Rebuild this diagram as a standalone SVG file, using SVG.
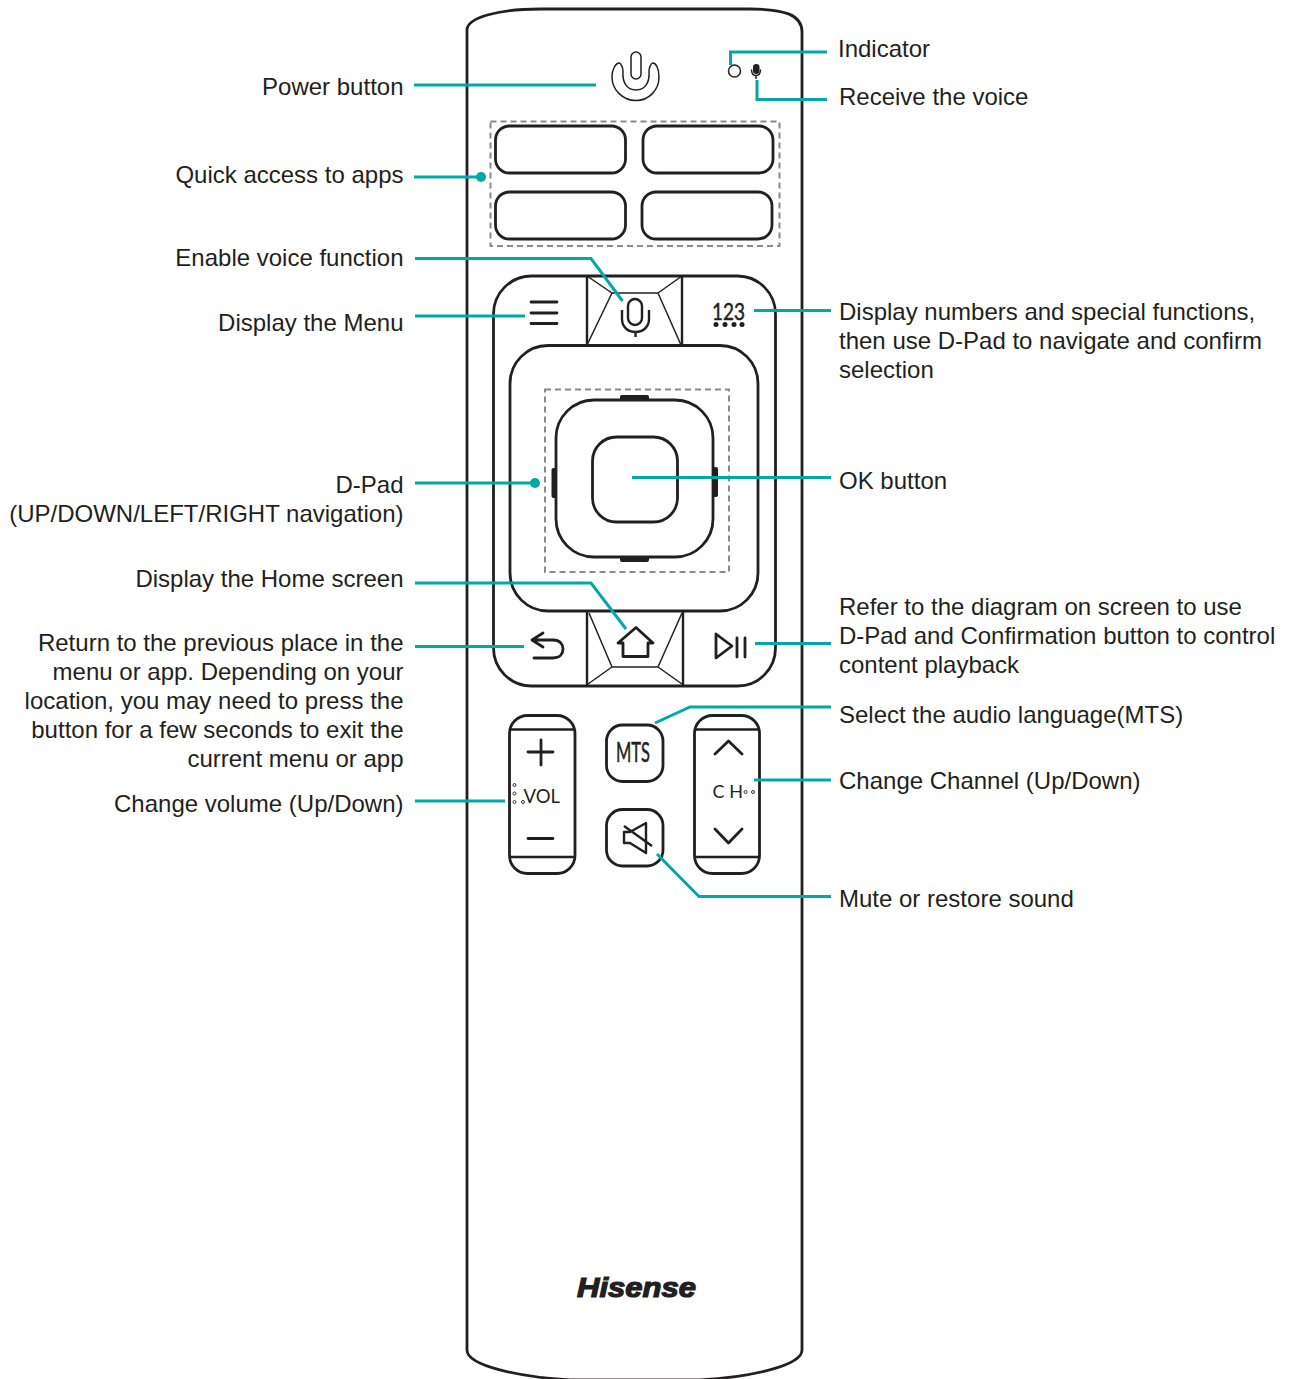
<svg xmlns="http://www.w3.org/2000/svg" width="1289" height="1379" viewBox="0 0 1289 1379">
<style>
text{font-family:"Liberation Sans",Arial,sans-serif;fill:#231f20}
.l{font-size:24px;text-anchor:end}
.r{font-size:24px}
.k{fill:none;stroke:#231f20;stroke-width:2.8;stroke-linejoin:round;stroke-linecap:round}
.t{fill:none;stroke:#231f20;stroke-width:1.5;stroke-linejoin:round}
.m{fill:none;stroke:#231f20;stroke-width:2.4;stroke-linejoin:round}
.d{fill:none;stroke:#8a8a8a;stroke-width:2;stroke-dasharray:6 4}
.c{fill:none;stroke:#00a9a7;stroke-width:3;stroke-linejoin:miter}
.cd{fill:#00a9a7}
.f{fill:#231f20}
.lt{font-family:Lato,"Liberation Sans",sans-serif;font-weight:400}
</style>
<g id="remote-body"><path class="k" d="M467,1350V30C467,18 497,9 540,9H750C785,9 802,15 802,32V1350C802,1366 750,1377 700,1380H570C520,1377 467,1366 467,1350Z"/></g>
<g id="power-button">
<path class="t" d="M623,71C622,84 628,90 636,90S650,84 649,71C649,68 651,63 653,63C656,63 659,69 659,77C659,90 649,100.500 636,100.500S612,90 612,77C612,69 616,63 619,63C621,63 623,68 623,71Z"/>
<rect class="t" x="631" y="52" width="10" height="27" rx="5"/>
</g>
<g id="indicator"><circle class="t" cx="734.500" cy="71" r="6"/></g>
<g id="microphone"><rect class="f" x="753" y="64" width="6.500" height="10" rx="3.200"/><path fill="none" stroke="#231f20" stroke-width="1.500" d="M751.500,69.500C751.500,73 753,75.500 756,75.500S760.500,73 760.500,69.500M756,75.500V79"/></g>
<g id="quick-access">
<rect class="d" x="490.500" y="121.500" width="289" height="124.500"/>
<rect class="k" x="495.500" y="126" width="130" height="47" rx="14"/>
<rect class="k" x="643" y="126" width="130" height="47" rx="14"/>
<rect class="k" x="495.500" y="192" width="130" height="47" rx="14"/>
<rect class="k" x="642" y="192" width="130" height="47" rx="14"/>
</g>
<g id="control-panel"><rect class="k" x="493.500" y="276" width="282" height="410" rx="38"/></g>
<g id="voice-button">
<path class="m" d="M587,276V345M682,276V345"/>
<path class="t" d="M587,276L612,293H658L682,276M612,293L587,345M658,293L681,345"/>
<rect class="m" x="628" y="299" width="14" height="26" rx="7"/>
<path class="m" d="M622,310V319C622,327 628,332 635.500,332S649,327 649,319V310M635.500,332V337"/>
</g>
<g id="menu-button"><path class="k" d="M531,302H557M531,313H557M531,323.500H557"/></g>
<g id="numbers-button">
<text class="lt" x="712" y="320" font-size="24" textLength="33" lengthAdjust="spacingAndGlyphs" stroke="#231f20" stroke-width=".5">123</text>
<circle class="f" cx="716" cy="324.500" r="2.500"/><circle class="f" cx="725" cy="324.500" r="2.500"/><circle class="f" cx="734" cy="324.500" r="2.500"/><circle class="f" cx="742" cy="324.500" r="2.500"/>
</g>
<g id="d-pad">
<rect class="k" x="510" y="345.500" width="248" height="265.500" rx="38" fill="#fff"/>
<rect class="d" x="545" y="389.500" width="184" height="182.500"/>
<rect class="f" x="620" y="395" width="29" height="6" rx="2"/>
<rect class="f" x="620" y="556" width="29" height="6" rx="2"/>
<rect class="f" x="551.500" y="468" width="5" height="30" rx="2"/>
<rect class="f" x="713" y="467" width="5" height="30" rx="2"/>
<rect class="k" x="556" y="400" width="157" height="157" rx="38"/>
</g>
<g id="ok-button"><rect class="k" x="592.500" y="437" width="85" height="85" rx="24"/></g>
<g id="home-button">
<path class="m" d="M587,611V686M683,611V686"/>
<path class="t" d="M589,613L612,667H658L682,613M612,667L588,684M658,667L682,684"/>
<path class="k" d="M623,656.500V643H618L636,627.500L653,643H648V656.500Z"/>
</g>
<g id="back-button"><path class="k" d="M543,633L532,640L543,647M532,640H553C560,640 563,644 563,649C563,654 560,658 553,658H534"/></g>
<g id="play-button"><path class="k" d="M716,634L732,646L716,658Z"/><path class="k" d="M737,638V657M745,638V657"/></g>
<g id="volume">
<rect class="k" x="509.500" y="715.500" width="65.500" height="158" rx="18"/>
<path class="m" d="M510,729.500H575M510,857H575"/>
<path class="k" d="M528,752H553M541,740V765M528,838.500H553"/>
<text class="lt" x="523.500" y="803" font-size="18.500">VOL</text>
<g fill="none" stroke="#231f20" stroke-width=".9"><circle cx="514.500" cy="785" r="1.500"/><circle cx="514.500" cy="793.500" r="1.500"/><circle cx="514.500" cy="802" r="1.500"/><circle cx="523" cy="802" r="1.500"/></g>
</g>
<g id="channel">
<rect class="k" x="694.500" y="715.500" width="65" height="158" rx="18"/>
<path class="m" d="M695,729.500H760M695,857H760"/>
<path class="k" d="M715,754L728.500,741L742,754M715,829L728.500,843L742,829"/>
<text class="lt" x="712.500" y="798" font-size="18" xml:space="preserve">C H</text>
<g fill="none" stroke="#231f20" stroke-width=".9"><circle cx="745.500" cy="792" r="1.500"/><circle cx="753" cy="792" r="1.500"/></g>
</g>
<g id="mts-button">
<rect class="k" x="606.500" y="725" width="56.500" height="56.500" rx="16"/>
<text class="lt" x="616" y="762" font-size="26" textLength="34" lengthAdjust="spacingAndGlyphs" stroke="#231f20" stroke-width=".5">MTS</text>
</g>
<g id="mute-button">
<rect class="k" x="606.500" y="809.500" width="56.500" height="56.500" rx="16"/>
<path class="m" d="M646,823V853L630,843H624V832H630Z M624,826L652,846"/>
</g>
<g id="logo"><text x="577" y="1297" font-size="27" font-weight="700" font-style="italic" stroke="#231f20" stroke-width="1.200" textLength="119" lengthAdjust="spacingAndGlyphs">Hisense</text></g>
<g id="connectors">
<path class="c" d="M414,85H596"/>
<path class="c" d="M414,177H481"/><circle class="cd" cx="481" cy="177" r="5"/>
<path class="c" d="M827,52H730.500V65"/>
<path class="c" d="M827,99.500H757V80"/>
<path class="c" d="M415,258.500H591L622.500,301"/>
<path class="c" d="M415,316H525"/>
<path class="c" d="M754,310.500H831"/>
<path class="c" d="M415,483H535"/><circle class="cd" cx="535" cy="483" r="5"/>
<path class="c" d="M632,477.500H831"/>
<path class="c" d="M415,583H591L626,629"/>
<path class="c" d="M415,646.500H524"/>
<path class="c" d="M755,643.500H831"/>
<path class="c" d="M655,723L690,707H831"/>
<path class="c" d="M754,780H831"/>
<path class="c" d="M657,854L699,896.500H831"/>
<path class="c" d="M415,801H505"/>
</g>
<g id="labels-left">
<text class="l" x="403.500" y="94.500">Power button</text>
<text class="l" x="403.500" y="183">Quick access to apps</text>
<text class="l" x="403.500" y="266">Enable voice function</text>
<text class="l" x="403.500" y="331">Display the Menu</text>
<text class="l" x="403.500" y="493">D-Pad</text>
<text class="l" x="403.500" y="522">(UP/DOWN/LEFT/RIGHT navigation)</text>
<text class="l" x="403.500" y="587">Display the Home screen</text>
<text class="l" x="403.500" y="651">Return to the previous place in the</text>
<text class="l" x="403.500" y="680">menu or app. Depending on your</text>
<text class="l" x="403.500" y="709">location, you may need to press the</text>
<text class="l" x="403.500" y="738">button for a few seconds to exit the</text>
<text class="l" x="403.500" y="767">current menu or app</text>
<text class="l" x="403.500" y="812">Change volume (Up/Down)</text>
</g>
<g id="labels-right">
<text class="r" x="838" y="57">Indicator</text>
<text class="r" x="839" y="104.500">Receive the voice</text>
<text class="r" x="839" y="320">Display numbers and special functions,</text>
<text class="r" x="839" y="349">then use D-Pad to navigate and confirm</text>
<text class="r" x="839" y="378">selection</text>
<text class="r" x="839" y="489">OK button</text>
<text class="r" x="839" y="615">Refer to the diagram on screen to use</text>
<text class="r" x="839" y="644">D-Pad and Confirmation button to control</text>
<text class="r" x="839" y="673">content playback</text>
<text class="r" x="839" y="723">Select the audio language(MTS)</text>
<text class="r" x="839" y="789">Change Channel (Up/Down)</text>
<text class="r" x="839" y="906.500">Mute or restore sound</text>
</g>
</svg>
